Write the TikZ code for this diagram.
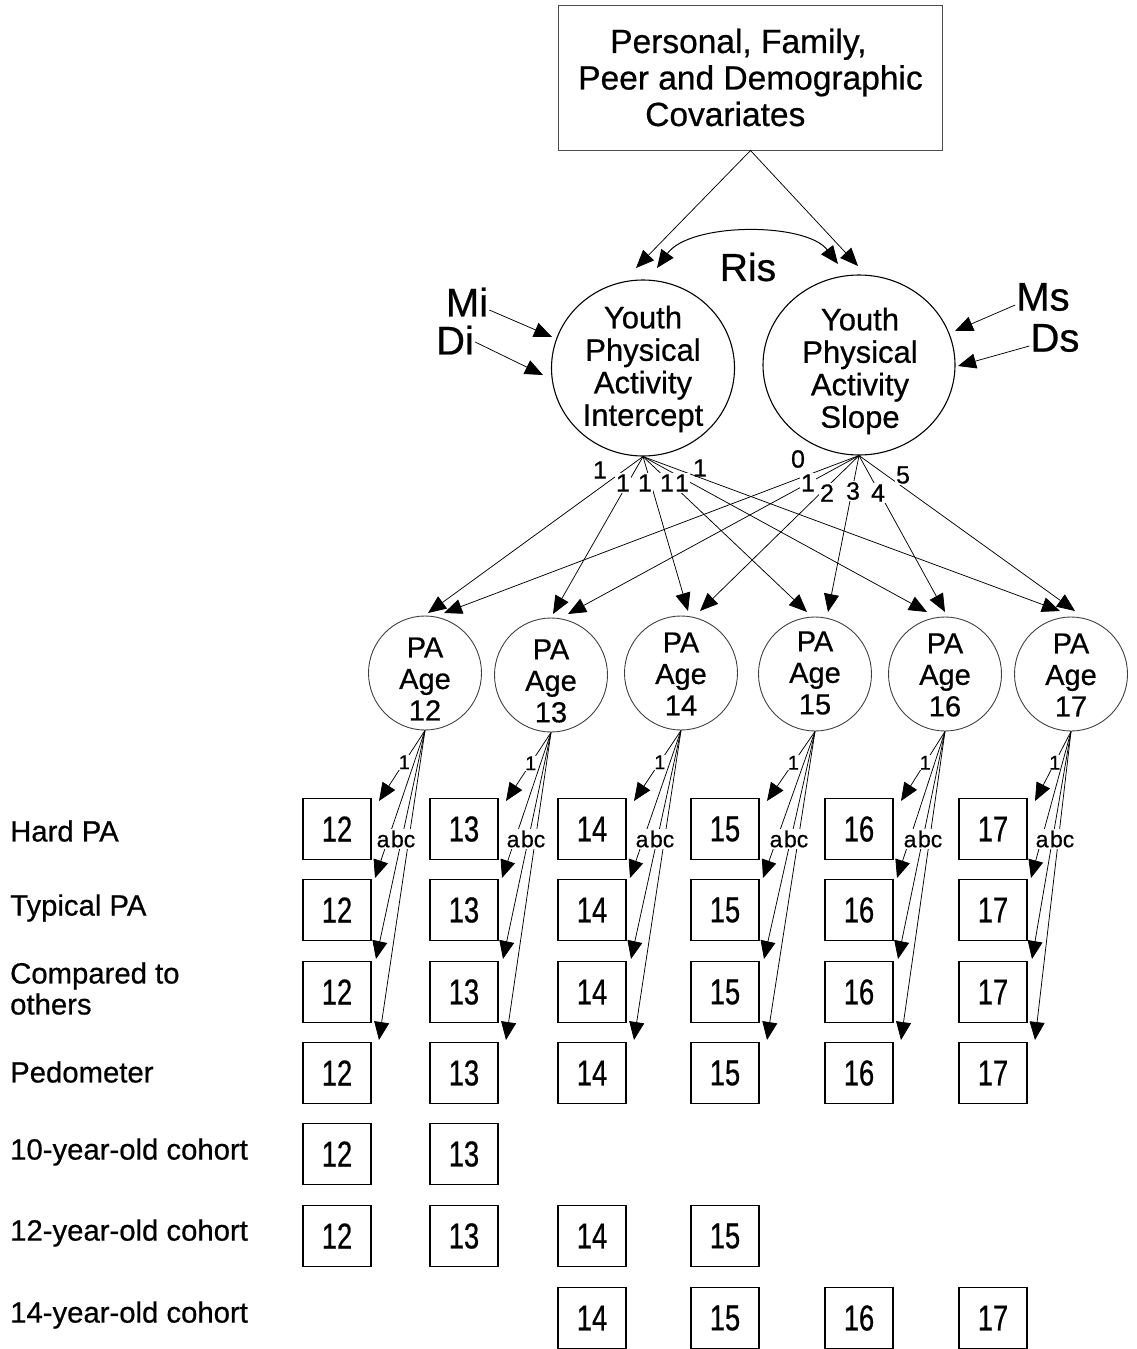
\documentclass[tikz,border=0pt]{standalone}
\usepackage{fontspec}
\setmainfont[FakeBold=0.6]{Liberation Sans}
\newfontfamily\digfont[FakeStretch=0.76,FakeBold=0.6]{Liberation Sans}
\usetikzlibrary{arrows.meta,shapes.geometric}
\begin{document}
\begin{tikzpicture}[x=1pt,y=-1pt,
  arr/.style={-{Triangle[length=18pt,width=15pt]}, line width=0.75pt},
  dbl/.style={{Triangle[length=18pt,width=15pt]}-{Triangle[length=18pt,width=15pt]}, line width=1pt},
  latent/.style={draw, ellipse, line width=1.1pt, inner sep=0pt},
  patent/.style={draw=black!75, ellipse, line width=0.9pt, inner sep=0pt, minimum width=113pt, minimum height=114pt},
  bigtxt/.style={align=center, font=\fontsize{31}{32.5}\selectfont, inner sep=0pt},
  patxt/.style={align=center, font=\fontsize{29}{31.5}\selectfont, inner sep=0pt},
  obs/.style={draw, line width=1.3pt, minimum width=68pt, minimum height=61pt, inner sep=0pt, font=\digfont\fontsize{36}{36}\selectfont},
  rowlab/.style={anchor=west, align=left, font=\fontsize{29.3}{31}\selectfont, inner sep=0pt},
  side/.style={font=\fontsize{40}{40}\selectfont, inner sep=1pt},
  ld/.style={font=\fontsize{25}{25}\selectfont, inner sep=1pt},
  ldw/.style={ld, fill=white},
  ldm/.style={font=\fontsize{20}{20}\selectfont, inner sep=0.8pt, fill=white},
  abcl/.style={font=\fontsize{23}{23}\selectfont, inner sep=1.2pt, fill=white},
]
\useasboundingbox (0,0) rectangle (1137,1349);

% covariates box
\node[draw=black!70, line width=1pt, minimum width=384pt, minimum height=145pt, align=left,
      font=\fontsize{33.5}{36.5}\selectfont, inner sep=0pt] (cov) at (750.5,77.5)
  {\hspace*{32pt}Personal, Family,\\Peer and Demographic\\\hspace*{67pt}Covariates};

% growth factors
\node[latent, minimum width=183pt, minimum height=176pt] (int) at (643,368) {};
\node[bigtxt] (intT) at (643,369) {Youth\\Physical\\Activity\\Intercept};
\node[latent, minimum width=192pt, minimum height=180pt] (slp) at (859,365) {};
\node[bigtxt] (slpT) at (860,371) {Youth\\Physical\\Activity\\Slope};

% arrows from covariates
\coordinate (tI) at (636,268);
\coordinate (tS) at (858,266);
\draw[arr] (cov.south) -- (tI);
\draw[arr] (cov.south) -- (tS);

% Ris
\coordinate (risL) at (657,268);
\coordinate (risR) at (838,264);
\draw[dbl] (risL) .. controls (690,222) and (806,222) .. (risR);
\node[font=\fontsize{39}{39}\selectfont, inner sep=0pt] (ris) at (748,267) {Ris};

% means and disturbances
\node[side] (Mi) at (467,302) {Mi};
\node[side] (Di) at (455,340) {Di};
\node[side] (Ms) at (1043,297) {Ms};
\node[side] (Ds) at (1055,338) {Ds};
\coordinate (tMi) at (552,337);
\coordinate (tDi) at (543,375);
\coordinate (tMs) at (955,331);
\coordinate (tDs) at (958,366);
\draw[arr] ([yshift=-8pt]Mi.east) -- (tMi);
\draw[arr] ([yshift=-2pt]Di.east) -- (tDi);
\draw[arr] ([yshift=-8pt]Ms.west) -- (tMs);
\draw[arr] ([yshift=-8pt]Ds.west) -- (tDs);

% PA latent variables
\foreach \k/\cx/\cy/\ty/\ix/\sx/\tyy in {12/425/673/679/428/444/613, 13/551/675/681/553/568/614,
    14/681/673/674/688/700/611, 15/815/674/673/807/828/612, 16/945/674/675/927/945/612, 17/1071/674/675/1060/1075/611} {
  \node[patent] (pa\k) at (\cx,\cy) {};
  \node[patxt] (pat\k) at (\cx,\ty) {PA\\Age\\\k};
  \coordinate (ti\k) at (\ix,\tyy);
  \coordinate (ts\k) at (\sx,\tyy);
  \draw[arr] (int.south) -- (ti\k);
  \draw[arr] (slp.south) -- (ts\k);
}

% loading labels
\node[ld]  (li12) at (600,470) {1};
\node[ldw] (li13) at (623,483) {1};
\node[ldw] (li14) at (645,483) {1};
\node[ldw] (li15) at (667,483) {1};
\node[ldw] (li16) at (682,483) {1};
\node[ld]  (li17) at (700,468) {1};
\node[ld]  (ls12) at (798,459) {0};
\node[ldw] (ls13) at (808,483) {1};
\node[ldw] (ls14) at (827,493) {2};
\node[ldw] (ls15) at (853,491) {3};
\node[ldw] (ls16) at (878,493) {4};
\node[ldw] (ls17) at (903,475) {5};

% row labels
\node[rowlab] (rHard) at (10,831) {Hard PA};
\node[rowlab] (rTyp) at (10,908) {Typical PA};
\node[rowlab] (rComp) at (10,988.5) {Compared to\\others};
\node[rowlab] (rPed) at (10,1072) {Pedometer};
\node[rowlab] (r10) at (10,1152) {10-year-old cohort};
\node[rowlab] (r12) at (10,1233) {12-year-old cohort};
\node[rowlab] (r14) at (10,1315) {14-year-old cohort};

% indicator boxes and measurement arrows
\foreach \k/\bx/\ax in {12/337/59, 13/464/62, 14/592/63, 15/725/64, 16/859/64, 17/993/62} {
  \node[obs] (o\k-1) at (\bx,829) {\k};
  \node[obs] (o\k-2) at (\bx,910) {\k};
  \node[obs] (o\k-3) at (\bx,992) {\k};
  \node[obs] (o\k-4) at (\bx,1073) {\k};
  \coordinate (m\k-1) at (\bx+42,801);
  \coordinate (m\k-2) at (\bx+38,878);
  \coordinate (m\k-3) at (\bx+39,959);
  \coordinate (m\k-4) at (\bx+42,1040);
  \draw[arr] (pa\k.south) -- (m\k-1) node[ldm, pos=0.45] (l\k-1) {1};
  \draw[arr] (pa\k.south) -- (m\k-2);
  \draw[arr] (pa\k.south) -- (m\k-3);
  \draw[arr] (pa\k.south) -- (m\k-4);
  \node[abcl] (abc\k) at (\bx+\ax,839) {a\hspace{1.5pt}bc};
}
\node[obs] (o12-5) at (337,1154) {12};
\node[obs] (o13-5) at (464,1154) {13};
\node[obs] (o12-6) at (337,1236) {12};
\node[obs] (o13-6) at (464,1236) {13};
\node[obs] (o14-6) at (592,1236) {14};
\node[obs] (o15-6) at (725,1236) {15};
\node[obs] (o14-7) at (592,1318) {14};
\node[obs] (o15-7) at (725,1318) {15};
\node[obs] (o16-7) at (859,1318) {16};
\node[obs] (o17-7) at (993,1318) {17};
\end{tikzpicture}
\end{document}
